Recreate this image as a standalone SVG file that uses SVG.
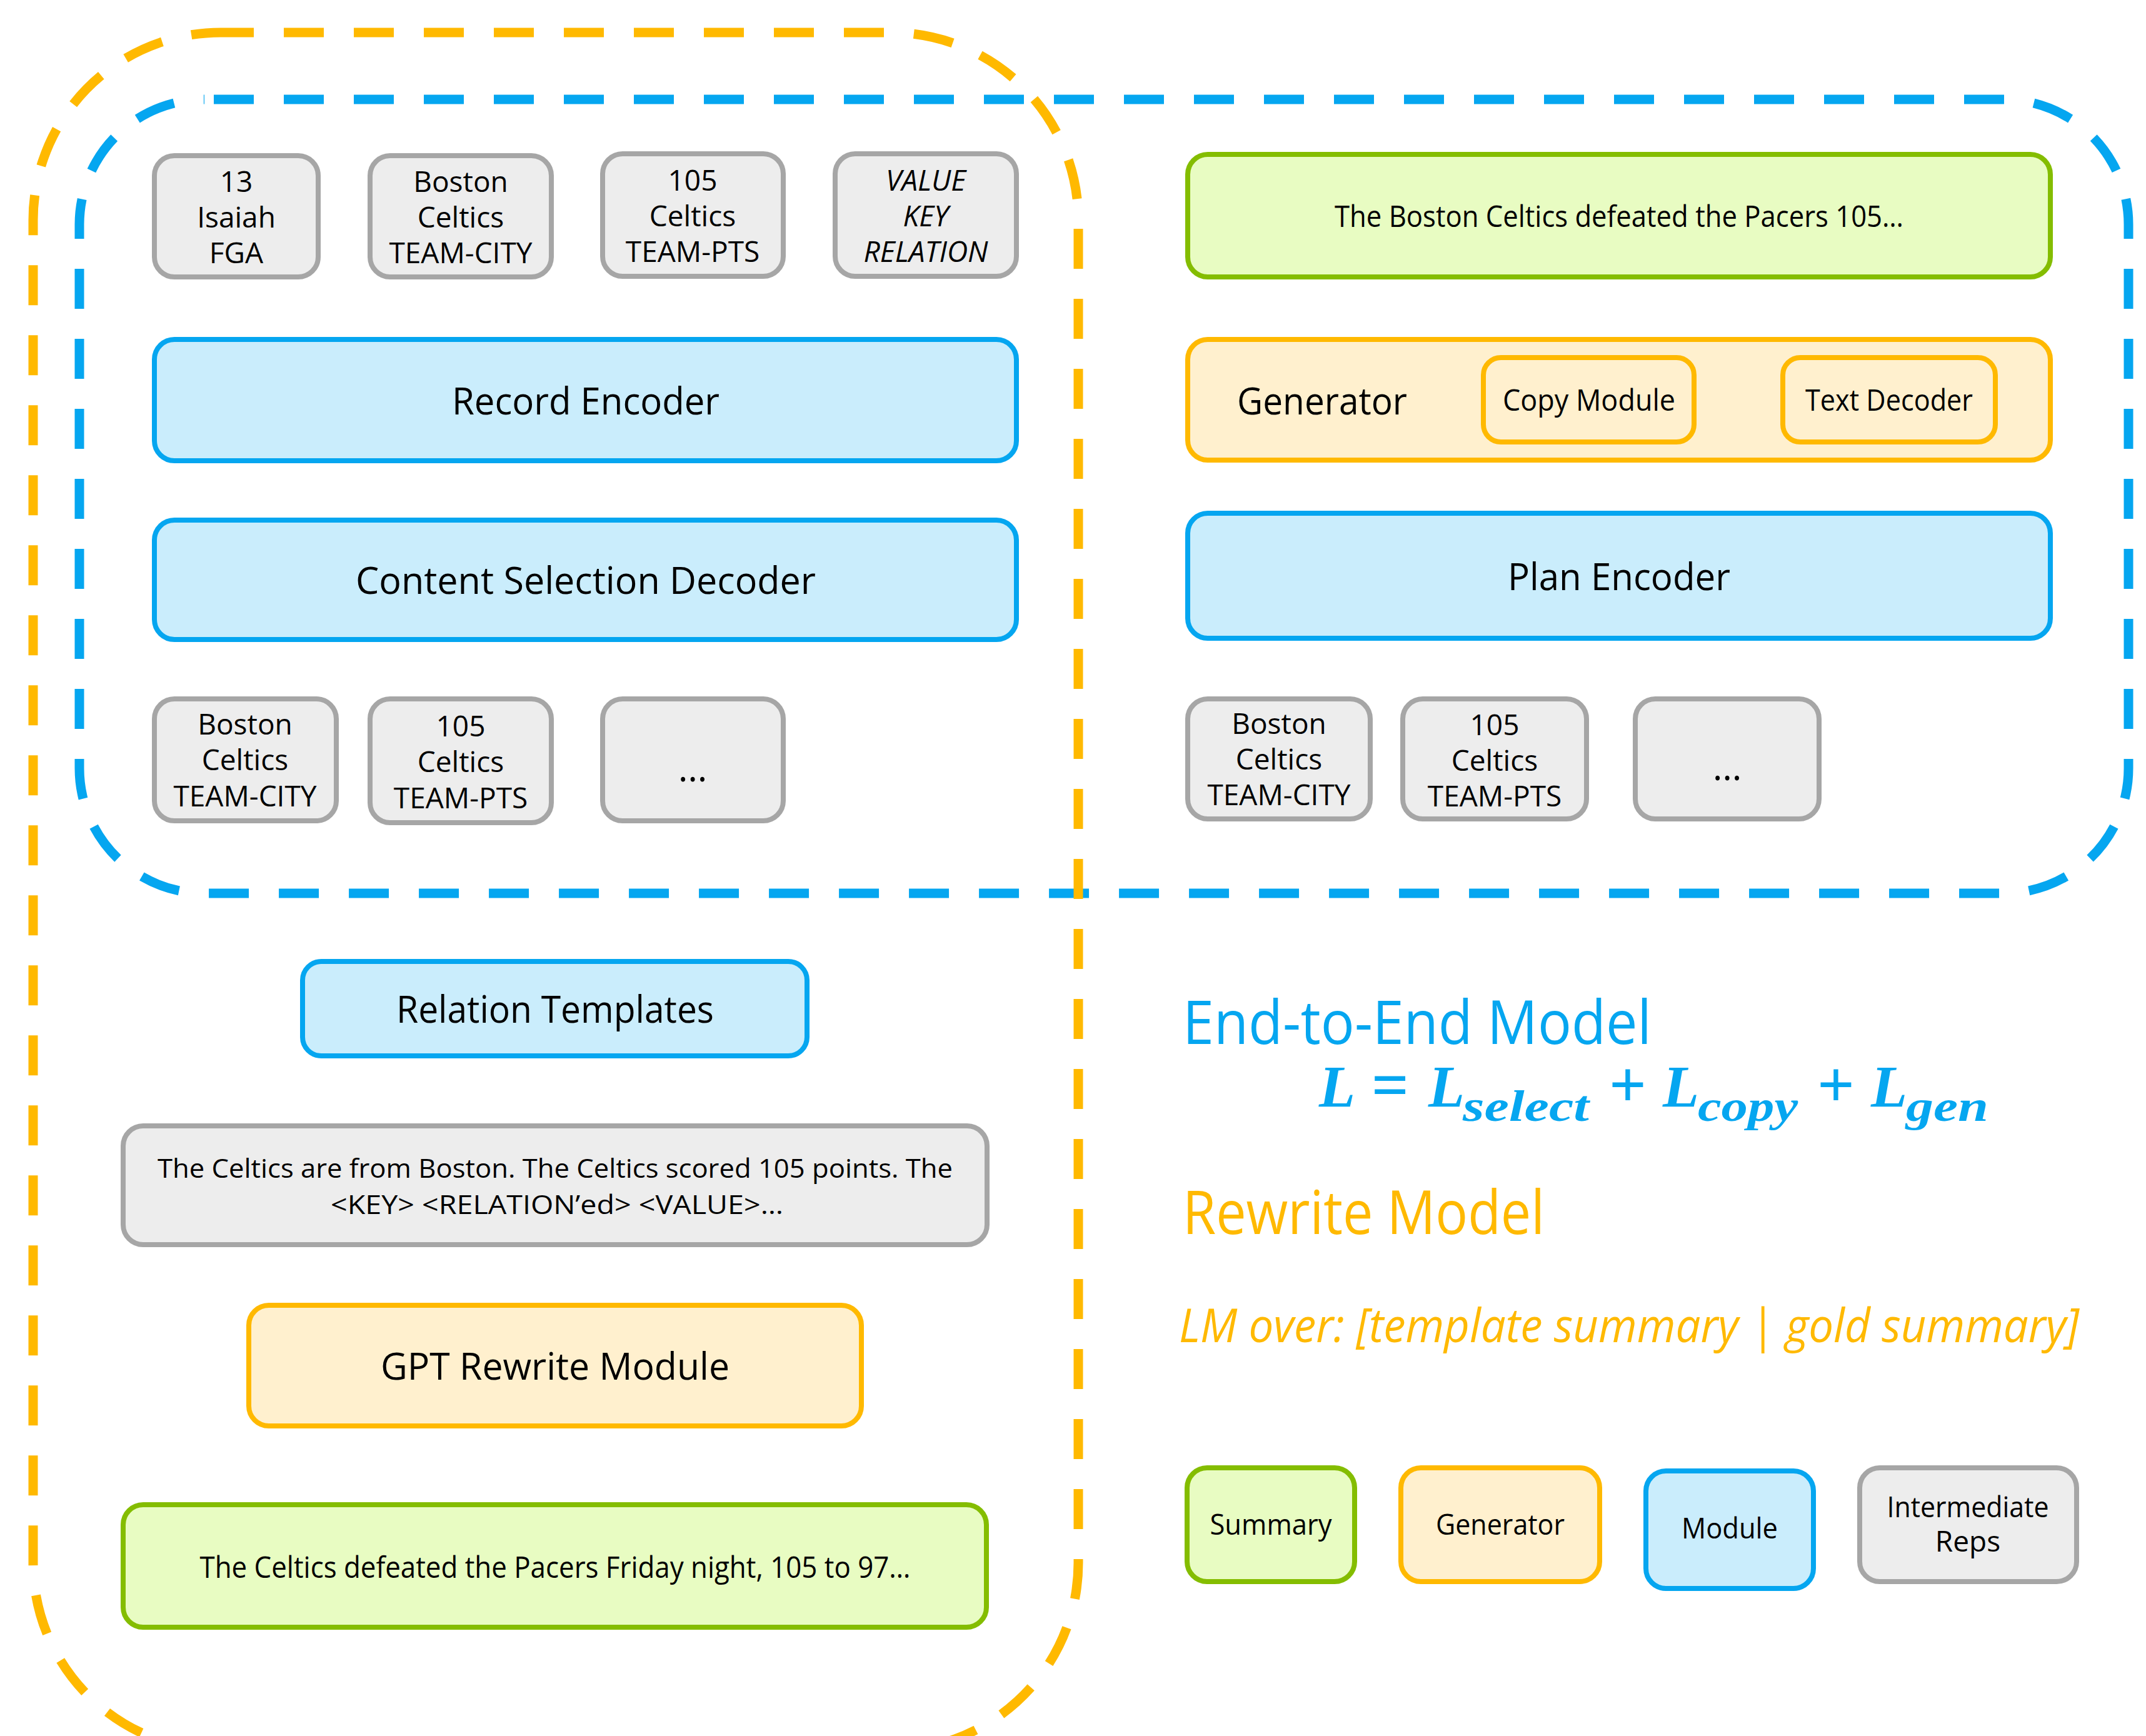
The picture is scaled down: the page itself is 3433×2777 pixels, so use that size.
<svg xmlns="http://www.w3.org/2000/svg" width="3433" height="2777" viewBox="0 0 3433 2777">
<style>
text{font-family:"Open Sans","Noto Sans","DejaVu Sans",sans-serif;fill:#000}
.c{text-anchor:middle}
.s46{font-size:46px}
.s47{font-size:47px}
.s61{font-size:61px}
.s42{font-size:42px}
.dots{font-size:60px}
.it{font-style:italic}
.gray{fill:#EDEDED;stroke:#A6A6A6;stroke-width:8}
.blue{fill:#CAEDFC;stroke:#05A6F0;stroke-width:8}
.orange{fill:#FFF0CE;stroke:#FFB900;stroke-width:8}
.green{fill:#E8FCC2;stroke:#84BD00;stroke-width:8}
.dash{fill:none;stroke-width:15;stroke-dasharray:64 48}
.bt{fill:#05A6F0}
.ot{fill:#FFB900}
.math{font-family:"Liberation Serif","DejaVu Serif",serif;font-weight:bold;font-style:italic;fill:#05A6F0}
.op{font-style:normal;font-size:105px}
.sub{font-size:70px}
</style>

<g id="end-to-end-container">
<rect class="dash" x="127" y="159" width="3278" height="1270" rx="200" ry="200" stroke="#05A6F0" stroke-dashoffset="97"/>
</g>
<g id="rewrite-container">
<rect class="dash" x="53" y="52" width="1672" height="2748" rx="300" ry="300" stroke="#FFB900" stroke-dashoffset="11"/>
</g>

<g id="connectors"></g>

<!-- Left top row -->
<g id="rec-13-isaiah">
<rect class="gray" x="247" y="249" width="262" height="194" rx="32"/>
<text class="c s46"><tspan x="378" y="307">13</tspan><tspan x="378" y="364">Isaiah</tspan><tspan x="378" y="421">FGA</tspan></text>
</g>
<g id="rec-boston-city">
<rect class="gray" x="592" y="249" width="290" height="194" rx="32"/>
<text class="c s46"><tspan x="737" y="307">Boston</tspan><tspan x="737" y="364">Celtics</tspan><tspan x="737" y="421">TEAM-CITY</tspan></text>
</g>
<g id="rec-105-pts">
<rect class="gray" x="964" y="246" width="289" height="196" rx="32"/>
<text class="c s46"><tspan x="1108" y="305">105</tspan><tspan x="1108" y="362">Celtics</tspan><tspan x="1108" y="419">TEAM-PTS</tspan></text>
</g>
<g id="rec-value-key-relation">
<rect class="gray" x="1336" y="246" width="290" height="196" rx="32"/>
<text class="c s46 it"><tspan x="1481" y="305">VALUE</tspan><tspan x="1481" y="362">KEY</tspan><tspan x="1481" y="419">RELATION</tspan></text>
</g>

<g id="record-encoder">
<rect class="blue" x="247" y="543" width="1379" height="194" rx="32"/>
<text class="c s61" x="937" y="663" textLength="428" lengthAdjust="spacingAndGlyphs">Record Encoder</text>
</g>
<g id="content-selection-decoder">
<rect class="blue" x="247" y="832" width="1379" height="191" rx="32"/>
<text class="c s61" x="937" y="950" textLength="736" lengthAdjust="spacingAndGlyphs">Content Selection Decoder</text>
</g>

<!-- Left bottom row -->
<g id="sel-boston-city">
<rect class="gray" x="247" y="1118" width="291" height="195" rx="32"/>
<text class="c s46"><tspan x="392" y="1175">Boston</tspan><tspan x="392" y="1232">Celtics</tspan><tspan x="392" y="1290">TEAM-CITY</tspan></text>
</g>
<g id="sel-105-pts">
<rect class="gray" x="592" y="1118" width="290" height="198" rx="32"/>
<text class="c s46"><tspan x="737" y="1178">105</tspan><tspan x="737" y="1235">Celtics</tspan><tspan x="737" y="1293">TEAM-PTS</tspan></text>
</g>
<g id="sel-more">
<rect class="gray" x="964" y="1118" width="289" height="195" rx="32"/>
<text class="c dots" x="1108" y="1250">…</text>
</g>

<!-- Right side -->
<g id="summary-output">
<rect class="green" x="1900" y="247" width="1380" height="196" rx="32"/>
<text class="c s47" x="2590" y="363" textLength="910" lengthAdjust="spacingAndGlyphs">The Boston Celtics defeated the Pacers 105…</text>
</g>
<g id="generator">
<rect class="orange" x="1900" y="543" width="1380" height="193" rx="32"/>
<text class="s61" x="1979" y="663" textLength="272" lengthAdjust="spacingAndGlyphs">Generator</text>
<g id="copy-module">
<rect class="orange" x="2373" y="572" width="337" height="135" rx="28"/>
<text class="c s47" x="2542" y="657" textLength="276" lengthAdjust="spacingAndGlyphs">Copy Module</text>
</g>
<g id="text-decoder">
<rect class="orange" x="2852" y="572" width="340" height="135" rx="28"/>
<text class="c s47" x="3022" y="657" textLength="268" lengthAdjust="spacingAndGlyphs">Text Decoder</text>
</g>
</g>
<g id="plan-encoder">
<rect class="blue" x="1900" y="821" width="1380" height="200" rx="32"/>
<text class="c s61" x="2590" y="944" textLength="356" lengthAdjust="spacingAndGlyphs">Plan Encoder</text>
</g>
<g id="plan-boston-city">
<rect class="gray" x="1900" y="1118" width="292" height="192" rx="32"/>
<text class="c s46"><tspan x="2046" y="1174">Boston</tspan><tspan x="2046" y="1231">Celtics</tspan><tspan x="2046" y="1288">TEAM-CITY</tspan></text>
</g>
<g id="plan-105-pts">
<rect class="gray" x="2244" y="1118" width="294" height="192" rx="32"/>
<text class="c s46"><tspan x="2391" y="1176">105</tspan><tspan x="2391" y="1233">Celtics</tspan><tspan x="2391" y="1290">TEAM-PTS</tspan></text>
</g>
<g id="plan-more">
<rect class="gray" x="2616" y="1118" width="294" height="192" rx="32"/>
<text class="c dots" x="2763" y="1248">…</text>
</g>

<!-- Rewrite pipeline -->
<g id="relation-templates">
<rect class="blue" x="484" y="1538" width="807" height="151" rx="30"/>
<text class="c s61" x="888" y="1636" textLength="508" lengthAdjust="spacingAndGlyphs">Relation Templates</text>
</g>
<g id="template-summary">
<rect class="gray" x="197" y="1801" width="1382" height="190" rx="32"/>
<text class="c s42"><tspan x="888" y="1884" textLength="1272" lengthAdjust="spacingAndGlyphs">The Celtics are from Boston. The Celtics scored 105 points. The</tspan><tspan x="891" y="1942" textLength="724" lengthAdjust="spacingAndGlyphs">&lt;KEY&gt;  &lt;RELATION’ed&gt;  &lt;VALUE&gt;…</tspan></text>
</g>
<g id="gpt-rewrite-module">
<rect class="orange" x="398" y="2088" width="980" height="193" rx="32"/>
<text class="c s61" x="888" y="2207" textLength="558" lengthAdjust="spacingAndGlyphs">GPT Rewrite Module</text>
</g>
<g id="rewrite-summary">
<rect class="green" x="197" y="2407" width="1381" height="196" rx="32"/>
<text class="c s47" x="888" y="2524" textLength="1137" lengthAdjust="spacingAndGlyphs">The Celtics defeated the Pacers Friday night, 105 to 97…</text>
</g>

<!-- Titles -->
<g id="end-to-end-title">
<text class="bt" x="1892" y="1670" font-size="97" textLength="750" lengthAdjust="spacingAndGlyphs">End-to-End Model</text>
<text class="math" font-size="95"><tspan x="2110" y="1771">L</tspan><tspan class="op" x="2194" y="1771">=</tspan><tspan x="2285" y="1771">L</tspan><tspan class="sub" x="2340" y="1793" textLength="202" lengthAdjust="spacingAndGlyphs">select</tspan><tspan class="op" x="2574" y="1771">+</tspan><tspan x="2660" y="1771">L</tspan><tspan class="sub" x="2716" y="1793" textLength="160" lengthAdjust="spacingAndGlyphs">copy</tspan><tspan class="op" x="2907" y="1771">+</tspan><tspan x="2993" y="1771">L</tspan><tspan class="sub" x="3049" y="1793" textLength="132" lengthAdjust="spacingAndGlyphs">gen</tspan></text>
</g>
<g id="rewrite-title">
<text class="ot" x="1892" y="1974" font-size="97" textLength="579" lengthAdjust="spacingAndGlyphs">Rewrite Model</text>
<text class="ot it" x="1886" y="2147" font-size="75" textLength="1440" lengthAdjust="spacingAndGlyphs">LM over: [template summary | gold summary]</text>
</g>

<!-- Legend -->
<g id="legend-summary">
<rect class="green" x="1899" y="2348" width="268" height="182" rx="32"/>
<text class="c s46" x="2033" y="2455" textLength="195" lengthAdjust="spacingAndGlyphs">Summary</text>
</g>
<g id="legend-generator">
<rect class="orange" x="2241" y="2348" width="318" height="182" rx="32"/>
<text class="c s46" x="2400" y="2455" textLength="206" lengthAdjust="spacingAndGlyphs">Generator</text>
</g>
<g id="legend-module">
<rect class="blue" x="2633" y="2353" width="268" height="188" rx="32"/>
<text class="c s46" x="2767" y="2461" textLength="154" lengthAdjust="spacingAndGlyphs">Module</text>
</g>
<g id="legend-intermediate">
<rect class="gray" x="2975" y="2348" width="347" height="182" rx="32"/>
<text class="c s46"><tspan x="3148" y="2427" textLength="259" lengthAdjust="spacingAndGlyphs">Intermediate</tspan><tspan x="3148" y="2482">Reps</tspan></text>
</g>
</svg>
